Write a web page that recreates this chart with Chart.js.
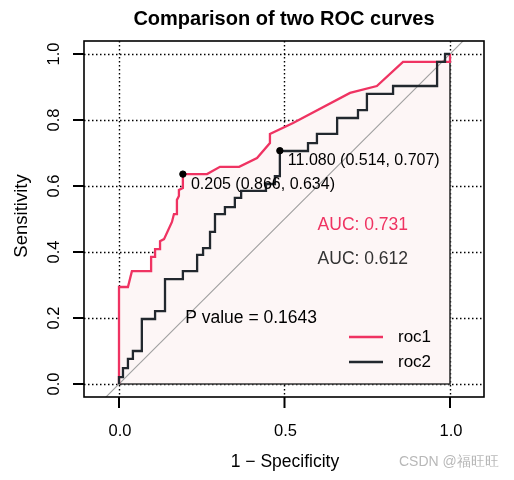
<!DOCTYPE html>
<html>
<head>
<meta charset="utf-8">
<script src="https://cdn.jsdelivr.net/npm/chart.js@4.4.1/dist/chart.umd.min.js"></script>
<style>
  html, body { margin:0; padding:0; background:#fff; }
  canvas { display:block; }
</style>
</head>
<body>
<canvas id="roc" width="514" height="480"></canvas>
<script>
// curve vertices (x = 1 - specificity, y = sensitivity)
const roc1X = [0, 0, 0.027, 0.039, 0.097, 0.097, 0.109, 0.109, 0.124, 0.124, 0.136, 0.160, 0.166, 0.175, 0.175, 0.181, 0.181, 0.193, 0.193, 0.266, 0.305, 0.363, 0.417, 0.456, 0.456, 0.526, 0.698, 0.779, 0.858, 1, 1];
const roc1Y = [0, 0.294, 0.294, 0.342, 0.342, 0.385, 0.385, 0.409, 0.409, 0.433, 0.439, 0.491, 0.515, 0.515, 0.558, 0.570, 0.588, 0.594, 0.636, 0.636, 0.658, 0.658, 0.685, 0.730, 0.758, 0.791, 0.882, 0.903, 0.976, 0.976, 1];

const roc2X = [0, 0, 0.012, 0.012, 0.027, 0.027, 0.042, 0.042, 0.069, 0.069, 0.109, 0.109, 0.139, 0.139, 0.193, 0.193, 0.236, 0.236, 0.254, 0.254, 0.275, 0.275, 0.290, 0.290, 0.320, 0.320, 0.350, 0.350, 0.369, 0.369, 0.444, 0.444, 0.471, 0.471, 0.486, 0.486, 0.571, 0.571, 0.598, 0.598, 0.659, 0.659, 0.722, 0.722, 0.749, 0.749, 0.828, 0.828, 0.961, 0.961, 0.985, 0.985, 1];
const roc2Y = [0, 0.021, 0.021, 0.048, 0.048, 0.076, 0.076, 0.100, 0.100, 0.197, 0.197, 0.221, 0.221, 0.318, 0.318, 0.342, 0.342, 0.391, 0.391, 0.412, 0.412, 0.461, 0.461, 0.515, 0.515, 0.536, 0.536, 0.564, 0.564, 0.585, 0.585, 0.606, 0.606, 0.630, 0.630, 0.706, 0.706, 0.730, 0.730, 0.758, 0.758, 0.806, 0.806, 0.830, 0.830, 0.879, 0.879, 0.903, 0.903, 0.976, 0.976, 1.0, 1.0];

// best thresholds
const bestX = [0.193, 0.486];
const bestY = [0.636, 0.707];
const bestLabels = ["0.205 (0.866, 0.634)", "11.080 (0.514, 0.707)"];

const aucLabels = ["AUC: 0.731", "AUC: 0.612"];
const pLabel = "P value = 0.1643";
const seriesNames = ["roc1", "roc2"];

const xTicks = [0, 0.5, 1];
const xTickLabels = ["0.0", "0.5", "1.0"];
const yTicks = [0, 0.2, 0.4, 0.6, 0.8, 1];
const yTickLabels = ["0.0", "0.2", "0.4", "0.6", "0.8", "1.0"];

const RED = "#ef3362";
const DARK = "#22282e";
const FONT = "'Liberation Sans', Arial, sans-serif";

const toPts = (xs, ys) => xs.map((x, i) => ({x: x, y: ys[i]}));

const rAxes = {
    id: "rAxes",
    beforeDatasetsDraw(chart) {
        const ctx = chart.ctx, a = chart.chartArea;
        const sx = chart.scales.x, sy = chart.scales.y;
        ctx.save();
        ctx.strokeStyle = "#000";
        ctx.lineWidth = 1.4;
        ctx.setLineDash([1.5, 2.5]);
        xTicks.forEach(v => {
            const p = Math.round(sx.getPixelForValue(v)) + 0.5;
            ctx.beginPath(); ctx.moveTo(p, a.top); ctx.lineTo(p, a.bottom); ctx.stroke();
        });
        yTicks.forEach(v => {
            const p = Math.round(sy.getPixelForValue(v)) + 0.5;
            ctx.beginPath(); ctx.moveTo(a.left, p); ctx.lineTo(a.right, p); ctx.stroke();
        });
        ctx.restore();
    },
    afterDatasetsDraw(chart) {
        const ctx = chart.ctx, a = chart.chartArea;
        const sx = chart.scales.x, sy = chart.scales.y;
        ctx.save();
        // box
        ctx.strokeStyle = "#000";
        ctx.lineWidth = 1.6;
        ctx.strokeRect(a.left, a.top, a.right - a.left, a.bottom - a.top);
        // ticks
        ctx.lineWidth = 2;
        ctx.fillStyle = "#000";
        ctx.font = "16.5px " + FONT;
        ctx.textAlign = "center";
        ctx.textBaseline = "middle";
        xTicks.forEach((v, i) => {
            const p = sx.getPixelForValue(v);
            ctx.beginPath(); ctx.moveTo(p, a.bottom); ctx.lineTo(p, a.bottom + 11); ctx.stroke();
            ctx.fillText(xTickLabels[i], p + 1, 431);
        });
        yTicks.forEach((v, i) => {
            const p = sy.getPixelForValue(v);
            ctx.beginPath(); ctx.moveTo(a.left, p); ctx.lineTo(a.left - 11, p); ctx.stroke();
            ctx.save();
            ctx.translate(54, p);
            ctx.rotate(-Math.PI / 2);
            ctx.fillText(yTickLabels[i], 0, 0);
            ctx.restore();
        });
        // titles
        ctx.font = "bold 20px " + FONT;
        ctx.fillText("Comparison of two ROC curves", 284, 19);
        ctx.font = "17.5px " + FONT;
        ctx.fillText("1 \u2212 Specificity", 285, 462);
        ctx.save();
        ctx.translate(22, 216);
        ctx.rotate(-Math.PI / 2);
        ctx.font = "18.5px " + FONT;
        ctx.fillText("Sensitivity", 0, 0);
        ctx.restore();

        // best threshold labels
        ctx.textAlign = "left";
        ctx.font = "16px " + FONT;
        bestLabels.forEach((t, i) => {
            const px = sx.getPixelForValue(bestX[i]), py = sy.getPixelForValue(bestY[i]);
            ctx.fillStyle = "#000";
            ctx.fillText(t, px + 8, py + 10);
        });
        // AUC + p value
        ctx.font = "17.5px " + FONT;
        ctx.fillStyle = RED;
        ctx.fillText(aucLabels[0], sx.getPixelForValue(0.6), sy.getPixelForValue(0.48));
        ctx.fillStyle = "#333";
        ctx.fillText(aucLabels[1], sx.getPixelForValue(0.6), sy.getPixelForValue(0.379));
        ctx.fillStyle = "#000";
        ctx.fillText(pLabel, sx.getPixelForValue(0.2), sy.getPixelForValue(0.2));

        // legend
        ctx.font = "17px " + FONT;
        [RED, DARK].forEach((c, i) => {
            const y = 337 + i * 25;
            ctx.strokeStyle = c;
            ctx.lineWidth = 2.5;
            ctx.beginPath(); ctx.moveTo(349, y); ctx.lineTo(383, y); ctx.stroke();
            ctx.fillStyle = "#000";
            ctx.fillText(seriesNames[i], 398, y);
        });

        // watermark
        ctx.fillStyle = "#b8b8b8";
        ctx.font = "14px " + FONT;
        ctx.fillText("CSDN @\u798f\u65fa\u65fa", 399, 462);
        ctx.restore();
    }
};

new Chart(document.getElementById("roc"), {
    type: "scatter",
    data: {
        datasets: [
            {
                label: "auc",
                data: toPts(roc1X, roc1Y),
                showLine: true,
                fill: "origin",
                backgroundColor: "#fdf6f6",
                borderWidth: 0,
                borderColor: "rgba(0,0,0,0)",
                pointRadius: 0,
                order: 9
            },
            {
                label: "polygon",
                data: [{x: 0, y: 0}, {x: 1, y: 0}, {x: 1, y: 1}],
                showLine: true,
                borderColor: "#333",
                borderWidth: 1.6,
                pointRadius: 0,
                order: 8
            },
            {
                label: "diag",
                data: [{x: -0.2, y: -0.2}, {x: 1.2, y: 1.2}],
                showLine: true,
                borderColor: "#a0a0a0",
                borderWidth: 1.1,
                pointRadius: 0,
                order: 7
            },
            {
                label: seriesNames[0],
                data: toPts(roc1X, roc1Y),
                showLine: true,
                borderColor: RED,
                borderWidth: 2.3,
                pointRadius: 0,
                order: 6
            },
            {
                label: seriesNames[1],
                data: toPts(roc2X, roc2Y),
                showLine: true,
                borderColor: DARK,
                borderWidth: 2.3,
                pointRadius: 0,
                order: 5
            },
            {
                label: "best",
                data: toPts(bestX, bestY),
                pointRadius: 3.2,
                backgroundColor: "#000",
                borderColor: "#000",
                order: 1
            }
        ]
    },
    options: {
        responsive: false,
        animation: false,
        layout: { padding: { left: 84, right: 30, top: 41, bottom: 83 } },
        plugins: { legend: { display: false }, tooltip: { enabled: false } },
        scales: {
            x: { type: "linear", min: -0.10574, max: 1.10272, display: false },
            y: { type: "linear", min: -0.03939, max: 1.03939, display: false }
        }
    },
    plugins: [rAxes]
});
</script>
</body>
</html>
